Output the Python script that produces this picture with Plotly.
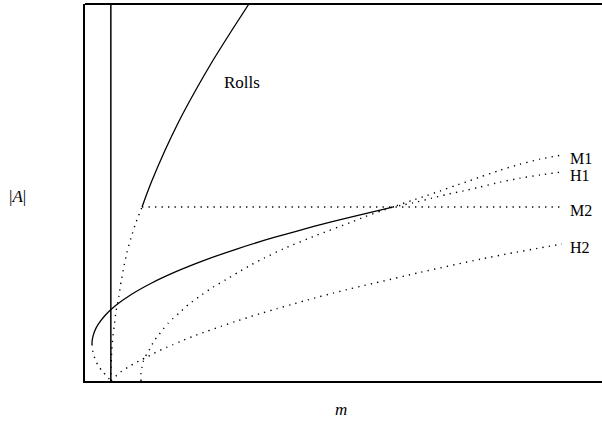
import plotly.graph_objects as go

# ---- data (m, |A|) ----
m_crit = 5.0

rolls_dot_m = [5.0, 5.1, 5.25, 5.45, 5.65, 6.0, 6.55, 7.0, 7.55, 8.1, 8.9, 9.85, 11.03]
rolls_dot_A = [0, 6, 9.5, 12.5, 14.5, 18.5, 22.5, 26.5, 30.5, 34, 38, 42, 46.15]

rolls_m = [11.03, 11.8, 12.92, 15.42, 18.2, 21.32, 24.68, 28.32, 31.7]
rolls_A = [46.15, 49.07, 53.05, 61.01, 68.97, 76.92, 84.88, 92.84, 100.0]

mixed_m = [1.35, 1.41, 1.8, 2.54, 3.96, 5.93, 9.02, 12.91, 17.59, 23.06, 29.33, 36.4, 44.25, 51.4, 59.5]
mixed_A = [9.81, 11.0, 13.0, 15.0, 17.5, 20.0, 23.0, 26.0, 29.0, 32.0, 35.0, 38.0, 41.0, 43.5, 46.15]

mixed_low_m = [1.35, 1.55, 2.0, 2.6, 3.4, 4.4, 5.0]
mixed_low_A = [9.81, 7.6, 5.6, 4.0, 2.5, 1.0, 0]

h1_m = [59.5, 63.44, 67.12, 70.02, 74.08, 76.4, 80.27, 84.14, 88.01, 92.26]
h1_A = [46.15, 47.25, 48.5, 49.5, 50.7, 51.45, 52.75, 53.8, 54.65, 55.44]

m1_m = [10.83, 10.83, 11.03, 11.22, 11.61, 12.19, 13.35, 14.31, 15.09, 16.05, 17.02, 18.18,
        20.12, 22.63, 24.76, 27.27, 29.59, 32.11, 34.62, 38.3, 44.68, 51.26, 54.16, 57.45,
        59.5, 63.25, 66.15, 68.67, 71.57, 74.27, 76.4, 80.27, 84.14, 88.01, 92.26]
m1_A = [0, 2.12, 3.71, 5.04, 6.37, 7.6, 10.6, 12.3, 13.7, 15.3, 16.6, 18.0,
        20.4, 22.9, 24.9, 26.9, 28.8, 30.8, 32.6, 35.0, 38.6, 42.0, 43.6, 45.2,
        46.15, 47.9, 49.2, 50.4, 51.8, 53.05, 54.1, 55.9, 57.5, 58.85, 59.95]

m2_m = [11.03, 92.26]
m2_A = [46.15, 46.15]

h2_m = [5.03, 6.19, 7.16, 8.32, 9.48, 10.64, 11.99, 13.15, 14.31, 15.86, 17.02, 18.38, 20.89,
        23.6, 26.31, 29.01, 31.72, 34.43, 37.14, 39.85, 42.55, 45.07, 47.97, 50.68, 53.58,
        56.09, 64.8, 76.4, 82.79, 88.01, 92.26]
h2_A = [0, 1.59, 2.65, 3.65, 4.6, 5.45, 6.35, 7.2, 8.0, 8.95, 9.65, 10.45, 11.85,
        13.2, 14.5, 15.75, 16.95, 18.1, 19.2, 20.25, 21.3, 22.25, 23.3, 24.25, 25.2,
        26.0, 28.8, 32.3, 34.0, 35.3, 36.34]

branch_labels = ["M1", "H1", "M2", "H2"]
label_A = [59.15, 54.5, 45.1, 35.4]
label_m = 93.4

FONT = "Liberation Serif"
solid = dict(color="black", width=1.3)
dotted = dict(color="black", width=1.4, dash="1.3px,5.2px")

fig = go.Figure()

def add(mx, ay, line, shape="spline"):
    fig.add_trace(go.Scatter(x=mx, y=ay, mode="lines", line=dict(**line, shape=shape, smoothing=0.6),
                             hoverinfo="skip", showlegend=False))

add(rolls_dot_m, rolls_dot_A, dotted)
add(rolls_m, rolls_A, solid)
add(mixed_m, mixed_A, solid)
add(mixed_low_m, mixed_low_A, dotted)
add(h1_m, h1_A, dotted)
add(m1_m, m1_A, dotted)
add(m2_m, m2_A, dotted, shape="linear")
add(h2_m, h2_A, dotted)

# vertical line at the critical m
fig.add_trace(go.Scatter(x=[m_crit, m_crit], y=[0, 100], mode="lines",
                         line=dict(color="black", width=1.5), hoverinfo="skip", showlegend=False))

# top frame line
fig.add_shape(type="line", xref="paper", yref="paper", x0=0, x1=1, y0=1, y1=1,
              line=dict(color="black", width=2))

for lab, a in zip(branch_labels, label_A):
    fig.add_annotation(x=label_m, y=a, text=lab, showarrow=False, xanchor="left", yanchor="middle",
                       font=dict(family=FONT, size=16, color="black"))

fig.add_annotation(x=26.5, y=79.3, text="Rolls", showarrow=False, xanchor="left", yanchor="middle",
                   font=dict(family=FONT, size=17, color="black"))

fig.add_annotation(xref="paper", yref="paper", x=-0.1296, y=0.4907, text="|<i>A</i>|",
                   showarrow=False, xanchor="center", yanchor="middle",
                   font=dict(family=FONT, size=17, color="black"))
fig.add_annotation(xref="paper", yref="paper", x=0.495, y=-0.0769, text="<i>m</i>",
                   showarrow=False, xanchor="center", yanchor="middle",
                   font=dict(family=FONT, size=17, color="black"))

fig.update_layout(
    width=602, height=423,
    margin=dict(l=85, r=0, t=4, b=42),
    paper_bgcolor="white", plot_bgcolor="white",
    xaxis=dict(range=[0, 100], showgrid=False, zeroline=False, showticklabels=False, ticks="",
               showline=True, linecolor="black", linewidth=1.8),
    yaxis=dict(range=[0, 100], showgrid=False, zeroline=False, showticklabels=False, ticks="",
               showline=True, linecolor="black", linewidth=1.8),
)

fig.write_html("out.html")
